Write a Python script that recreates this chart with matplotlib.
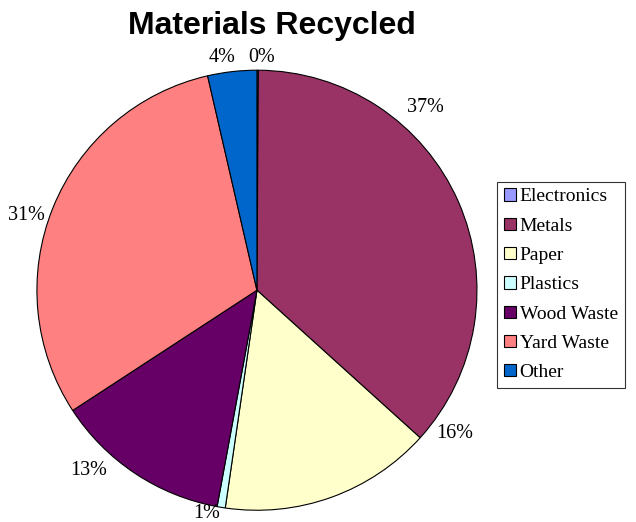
import numpy as np
import matplotlib.pyplot as plt

categories = ['Electronics', 'Metals', 'Paper', 'Plastics', 'Wood Waste', 'Yard Waste', 'Other']
values = [0.1, 36.6, 15.6, 0.6, 12.9, 30.6, 3.6]
colors = ['#9999FF', '#993366', '#FFFFCC', '#CCFFFF', '#660066', '#FF8080', '#0066CC']

# where the reference puts each percent label: degrees clockwise from 12 o'clock, radius
label_angles = [1.2, 42.7, 126, 192.6, 223, 288, 351.5]
label_radii = [1.06, 1.13, 1.11, 1.04, 1.12, 1.10, 1.07]

fig = plt.figure(figsize=(6.36, 5.22), dpi=100)
ax = fig.add_axes([0.058, 0.0225, 0.692, 0.843])

wedges, texts, autotexts = ax.pie(values, colors=colors, startangle=90, counterclock=False,
                                  autopct='%.0f%%', pctdistance=1.12,
                                  wedgeprops={'edgecolor': 'black', 'linewidth': 0.8},
                                  textprops={'family': 'Liberation Serif', 'fontsize': 14.5})
for t, a, r in zip(autotexts, label_angles, label_radii):
    t.set_position((r * np.sin(np.radians(a)), r * np.cos(np.radians(a))))
    t.set_ha('center')
    t.set_va('center')
ax.set_xlim(-1, 1)
ax.set_ylim(-1, 1)
ax.set_aspect('equal')

fig.text(0.428, 0.95, 'Materials Recycled', ha='center', va='center',
         family='Liberation Sans', fontweight='bold', fontsize=23)

leg = fig.legend(wedges, categories, loc='upper left', bbox_to_anchor=(0.782, 0.652),
                 prop={'family': 'Liberation Serif', 'size': 14},
                 frameon=True, fancybox=False, edgecolor='black',
                 handlelength=0.6, handleheight=0.6, handletextpad=0.2,
                 labelspacing=0.63, borderpad=0.35, borderaxespad=0)
leg.get_frame().set_linewidth(0.8)

plt.savefig('out.png', dpi=100)
